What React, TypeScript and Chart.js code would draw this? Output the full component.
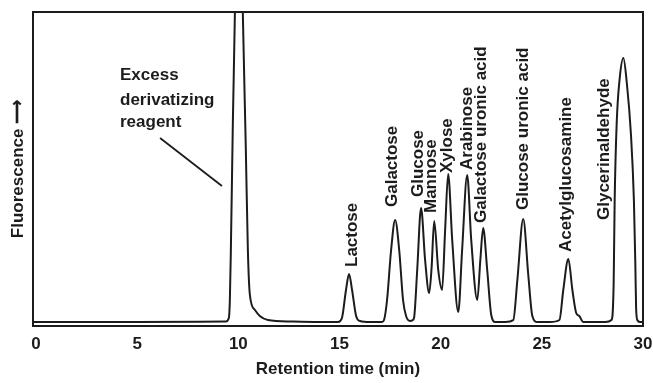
import React, { useEffect, useRef } from "react";
import { Chart, registerables } from "chart.js";

Chart.register(...registerables);

// Chromatogram trace: retention time (min) and fluorescence (arbitrary units)
const traceTime = [
  -0.15, 5, 9.38, 9.53, 9.58, 9.63, 9.73, 9.83, 9.92, 10.0, 10.1, 10.22, 10.37, 10.47, 10.57, 10.82, 11.06, 11.46, 12.65, 14.0,
  14.93, 15.12, 15.32, 15.47, 15.62, 15.82, 16.01, 16.5,
  17.1, 17.2, 17.35, 17.55, 17.75, 17.95, 18.14, 18.29, 18.49,
  18.62, 18.69, 18.84, 19.03, 19.23, 19.43,
  19.55, 19.68, 19.88, 20.07,
  20.22, 20.37, 20.57, 20.87,
  21.06, 21.31, 21.51, 21.81,
  21.96, 22.1, 22.3, 22.5, 22.7, 23.2,
  23.59, 23.79, 24.08, 24.33, 24.53, 24.78, 25.4,
  25.87, 26.06, 26.31, 26.51, 26.7, 26.85, 27.05, 28.14,
  28.44, 28.55, 28.6, 28.7, 28.85, 29.03, 29.2, 29.4, 29.55, 29.62, 29.66, 29.72, 29.85, 30,
];
const traceValue = [
  1, 1, 1.5, 5, 23, 73, 203, 311, 450, 520, 450, 311, 173, 73, 28, 13, 7, 3, 1.5, 1,
  1, 5, 33, 49, 33, 7, 2, 1,
  1, 3, 23, 73, 103, 73, 23, 7, 2,
  3, 6, 53, 115, 63, 30,
  55, 102, 53, 33,
  93, 149, 83, 11,
  73, 148, 83, 23,
  63, 95, 53, 8, 1, 1,
  3, 43, 104, 48, 7, 1, 1,
  3, 33, 64, 33, 10, 7, 1, 1,
  3, 40, 123, 200, 245, 265, 240, 190, 123, 60, 15, 3, 1, 1,
];

// Peak labels: name, retention time of label, fluorescence level where label starts
const peakNames = [
  "Lactose",
  "Galactose",
  "Glucose",
  "Mannose",
  "Xylose",
  "Arabinose",
  "Galactose uronic acid",
  "Glucose uronic acid",
  "Acetylglucosamine",
  "Glycerinaldehyde",
];
const peakLabelTimes = [15.62, 17.6, 18.88, 19.52, 20.31, 21.3, 21.99, 24.07, 26.2, 28.07];
const peakLabelLevels = [56, 116, 126, 110, 150, 153, 100, 113, 71, 103];

const xTickValues = [0, 5, 10, 15, 20, 25, 30];

const annotationLines = ["Excess", "derivatizing", "reagent"];
const annotationTime = 4.15;
const annotationLevels = [248, 223, 201];
const pointerFrom = { t: 6.13, v: 185 };
const pointerTo = { t: 9.19, v: 137 };

const FONT = '"Liberation Sans", Arial, Helvetica, sans-serif';
const INK = "#1c1c1c";

const overlayPlugin = {
  id: "overlay",
  afterDatasetsDraw(chart: any) {
    const { ctx, chartArea, scales } = chart;
    const x = scales.x;
    const y = scales.y;
    ctx.save();
    ctx.strokeStyle = INK;
    ctx.lineWidth = 2;
    ctx.strokeRect(
      chartArea.left,
      chartArea.top,
      chartArea.right - chartArea.left,
      chartArea.bottom - chartArea.top
    );
    ctx.fillStyle = INK;
    ctx.font = `bold 17px ${FONT}`;
    ctx.textAlign = "left";
    ctx.textBaseline = "middle";
    peakNames.forEach((name, i) => {
      const px = x.getPixelForValue(peakLabelTimes[i]);
      const py = y.getPixelForValue(peakLabelLevels[i]);
      ctx.save();
      ctx.translate(px, py);
      ctx.rotate(-Math.PI / 2);
      ctx.fillText(name, 0, 0);
      ctx.restore();
    });
    annotationLines.forEach((line, i) => {
      ctx.fillText(line, x.getPixelForValue(annotationTime), y.getPixelForValue(annotationLevels[i]));
    });
    ctx.beginPath();
    ctx.lineWidth = 1.8;
    ctx.moveTo(x.getPixelForValue(pointerFrom.t), y.getPixelForValue(pointerFrom.v));
    ctx.lineTo(x.getPixelForValue(pointerTo.t), y.getPixelForValue(pointerTo.v));
    ctx.stroke();
    ctx.restore();
  },
};

export default function App() {
  const ref = useRef<HTMLCanvasElement>(null);
  useEffect(() => {
    if (!ref.current) return;
    const chart = new Chart(ref.current, {
      type: "line",
      data: {
        datasets: [
          {
            data: traceTime.map((t, i) => ({ x: t, y: traceValue[i] })),
            borderColor: INK,
            borderWidth: 2,
            pointRadius: 0,
            cubicInterpolationMode: "monotone",
            fill: false,
          },
        ],
      },
      options: {
        animation: false,
        responsive: false,
        maintainAspectRatio: false,
        layout: { padding: { left: 0, right: 10, top: 12, bottom: 0 } },
        plugins: { legend: { display: false }, tooltip: { enabled: false } },
        scales: {
          x: {
            type: "linear",
            min: -0.15,
            max: 30,
            grid: { display: false, drawTicks: false },
            border: { display: false },
            afterBuildTicks: (scale: any) => {
              scale.ticks = xTickValues.map((v) => ({ value: v }));
            },
            afterFit: (scale: any) => {
              scale.height = 57;
              scale.paddingLeft = 0;
              scale.paddingRight = 0;
            },
            ticks: {
              color: INK,
              padding: 8,
              maxRotation: 0,
              autoSkip: false,
              font: { family: FONT, size: 17, weight: "bold" },
              callback: (v: any) => String(v),
            },
            title: {
              display: true,
              text: "Retention time (min)",
              color: INK,
              font: { family: FONT, size: 17, weight: "bold" },
              padding: { top: 0, bottom: 3 },
            },
          },
          y: {
            min: -3,
            max: 311,
            grid: { display: false, drawTicks: false },
            border: { display: false },
            ticks: { display: false },
            afterFit: (scale: any) => {
              scale.width = 33;
              scale.paddingTop = 0;
              scale.paddingBottom = 0;
            },
            title: {
              display: true,
              text: "Fluorescence \u27F6",
              color: INK,
              font: { family: FONT, size: 17, weight: "bold" },
              padding: { top: 8, bottom: 0 },
            },
          },
        },
      },
      plugins: [overlayPlugin],
    });
    return () => chart.destroy();
  }, []);
  return (
    <div style={{ position: "fixed", left: 0, top: 0, width: 653, height: 383, background: "#fff" }}>
      <canvas ref={ref} width={653} height={383} />
    </div>
  );
}
